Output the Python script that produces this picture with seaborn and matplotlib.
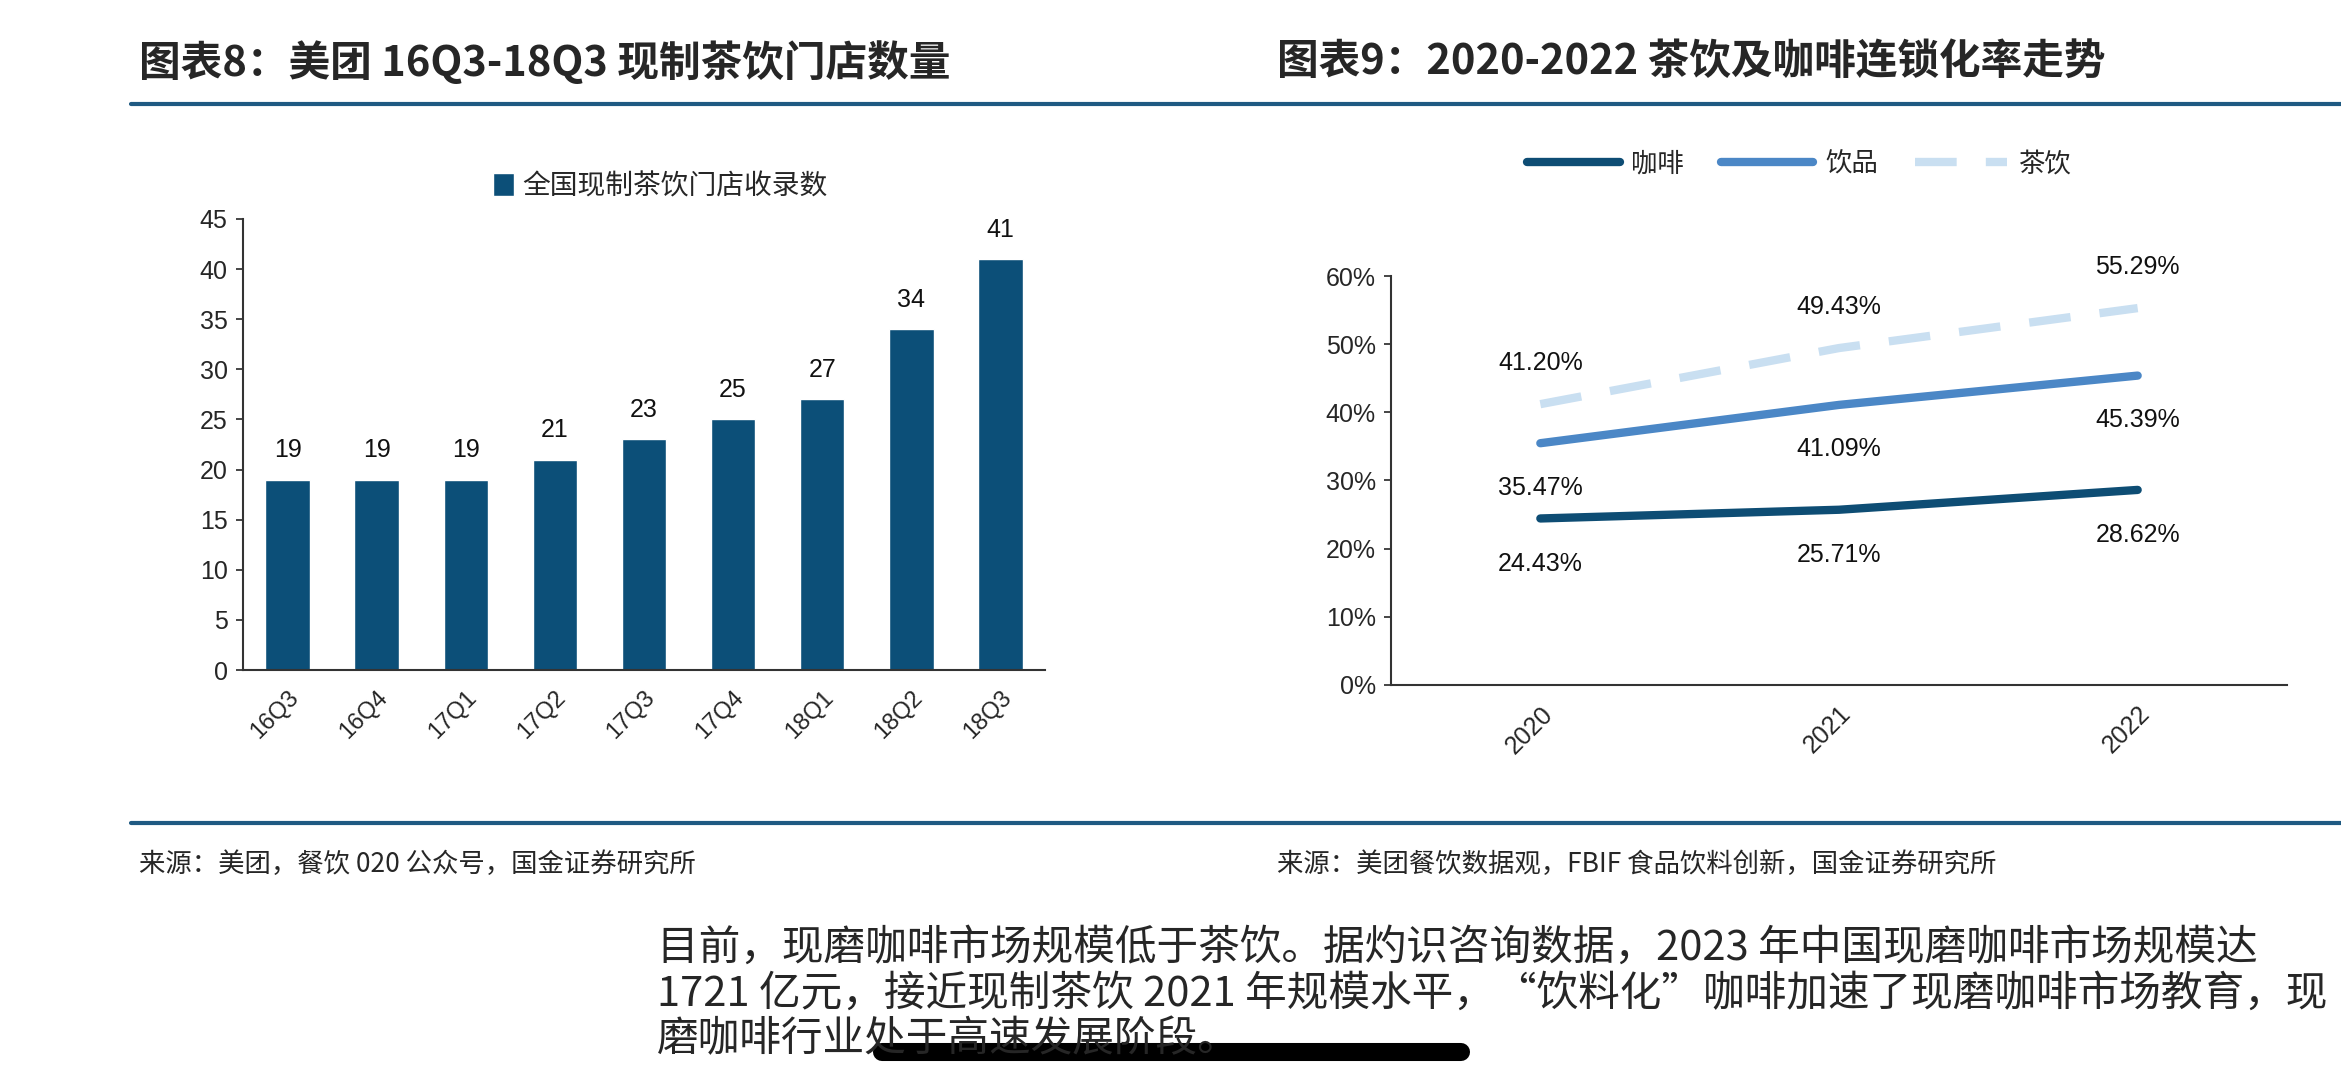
import numpy as np
import pandas as pd
import seaborn as sns
import matplotlib.pyplot as plt
from matplotlib.lines import Line2D

# 图表8: 美团现制茶饮门店数量
quarters = ['16Q3', '16Q4', '17Q1', '17Q2', '17Q3', '17Q4', '18Q1', '18Q2', '18Q3']
store_counts = [19, 19, 19, 21, 23, 25, 27, 34, 41]

# 图表9: 连锁化率 (%)
years = ['2020', '2021', '2022']
coffee = [24.43, 25.71, 28.62]
drinks = [35.47, 41.09, 45.39]
tea = [41.20, 49.43, 55.29]
series_names = ['咖啡', '饮品', '茶饮']

title_left = '图表8：美团 16Q3-18Q3 现制茶饮门店数量'
title_right = '图表9：2020-2022 茶饮及咖啡连锁化率走势'
source_left = '来源：美团，餐饮 020 公众号，国金证券研究所'
source_right = '来源：美团餐饮数据观，FBIF 食品饮料创新，国金证券研究所'
body_lines = ['目前，现磨咖啡市场规模低于茶饮。据灼识咨询数据，2023 年中国现磨咖啡市场规模达',
              '1721 亿元，接近现制茶饮 2021 年规模水平，“饮料化”咖啡加速了现磨咖啡市场教育，现',
              '磨咖啡行业处于高速发展阶段。']

sns.set_style('white')
plt.rcParams['font.family'] = ['Liberation Sans', 'Noto Sans CJK SC', 'DejaVu Sans']
plt.rcParams['axes.unicode_minus'] = False

W, H = 2341, 1080
fig = plt.figure(figsize=(W / 100, H / 100), dpi=100)

def box(l, t, r, b):
    # pixel box -> figure fraction
    return [l / W, 1 - b / H, (r - l) / W, (b - t) / H]

bar_color = '#0c4f78'
colors = {'咖啡': '#0e4d74', '饮品': '#4b87c6', '茶饮': '#c9dff1'}

# ---------- bar chart ----------
ax1 = fig.add_axes(box(243, 219, 1045, 670))
sns.barplot(x=quarters, y=store_counts, color=bar_color, saturation=1, width=0.5,
            label='全国现制茶饮门店收录数', ax=ax1)
ax1.set_xlim(-0.5, len(quarters) - 0.5)
ax1.set_ylim(0, 45)
ax1.set_yticks(range(0, 46, 5))
for i, v in enumerate(store_counts):
    ax1.annotate(str(v), (i, v), xytext=(0, 21), textcoords='offset points',
                 ha='center', va='center', fontsize=18, color='#111111')
ax1.set_xticks(range(len(quarters)))
ax1.set_xticklabels(quarters, rotation=45, ha='right', rotation_mode='anchor')
ax1.set_xticks(np.arange(-0.5, len(quarters)), minor=True)
ax1.tick_params(axis='x', which='major', length=0, labelsize=17, pad=12)
ax1.tick_params(axis='x', which='minor', direction='in', length=7, width=1.2, color='#333333')
ax1.tick_params(axis='y', direction='out', length=5, width=1.2, labelsize=18, pad=6, left=True)
for s in ['top', 'right']:
    ax1.spines[s].set_visible(False)
for s in ['left', 'bottom']:
    ax1.spines[s].set_color('#333333')
    ax1.spines[s].set_linewidth(1.5)
ax1.set_xlabel('')
ax1.set_ylabel('')
ax1.legend(loc='center', bbox_to_anchor=(0.52, 1.071), frameon=False, fontsize=20,
           handlelength=0.75, handleheight=0.9, handletextpad=0.3)

# ---------- line chart ----------
ax2 = fig.add_axes(box(1391, 276, 2287, 685))
df = pd.DataFrame({
    '年份': years * 3,
    '连锁化率': np.array(coffee + drinks + tea) / 100,
    '品类': np.repeat(series_names, len(years)),
})
sns.lineplot(data=df, x='年份', y='连锁化率', hue='品类', style='品类',
             palette=colors, dashes={'咖啡': '', '饮品': '', '茶饮': (5, 3.5)},
             linewidth=6, ax=ax2)
for name, vals, dy in [('咖啡', coffee, -32.5), ('饮品', drinks, -32), ('茶饮', tea, 29.5)]:
    for i, v in enumerate(vals):
        ax2.annotate(f'{v:.2f}%', (i, v / 100), xytext=(0, dy), textcoords='offset points',
                     ha='center', va='center', fontsize=18, color='#111111')
ax2.set_xlim(-0.5, len(years) - 0.5)
ax2.set_ylim(0, 0.6)
ax2.set_yticks(np.arange(0, 0.61, 0.1))
ax2.set_yticklabels([f'{t:.0f}%' for t in np.arange(0, 61, 10)])
ax2.set_xticks(range(len(years)))
ax2.set_xticklabels(years, rotation=45, ha='right', rotation_mode='anchor')
ax2.set_xticks(np.arange(-0.5, len(years)), minor=True)
ax2.tick_params(axis='x', which='major', length=0, labelsize=18, pad=12)
ax2.tick_params(axis='x', which='minor', direction='in', length=9, width=1.2, color='#333333')
ax2.tick_params(axis='y', direction='out', length=5, width=1.2, labelsize=18, pad=6, left=True)
for s in ['top', 'right']:
    ax2.spines[s].set_visible(False)
for s in ['left', 'bottom']:
    ax2.spines[s].set_color('#333333')
    ax2.spines[s].set_linewidth(1.5)
ax2.set_xlabel('')
ax2.set_ylabel('')
handles, labels = ax2.get_legend_handles_labels()
ax2.legend(handles, labels, loc='center', bbox_to_anchor=(0.456, 1.274), ncol=3,
           frameon=False, fontsize=19, handlelength=3.5, handletextpad=0.45, columnspacing=1.4)

# ---------- page text & rules ----------
cjk = ['Noto Sans CJK SC', 'DejaVu Sans']
fig.text(139 / W, 1 - 63 / H, title_left, fontsize=30, fontweight='bold', va='center', family=cjk)
fig.text(1277 / W, 1 - 63 / H, title_right, fontsize=30, fontweight='bold', va='center', family=cjk)
rule_color = '#1f5a82'
fig.add_artist(Line2D([131 / W, 1], [1 - 104 / H] * 2, color=rule_color, lw=3))
fig.add_artist(Line2D([131 / W, 1], [1 - 823 / H] * 2, color=rule_color, lw=3))
fig.text(139 / W, 1 - 864 / H, source_left, fontsize=19, va='center', family=cjk)
fig.text(1277 / W, 1 - 864 / H, source_right, fontsize=19, va='center', family=cjk)
for y, line in zip([948, 994, 1040], body_lines):
    fig.text(657 / W, 1 - y / H, line, fontsize=30, va='center', family=cjk)
# home indicator bar from the screenshot
fig.add_artist(Line2D([882 / W, 1461 / W], [1 - 1052 / H] * 2, color='black', lw=13,
                      solid_capstyle='round'))

fig.savefig('out.png', dpi=100)
